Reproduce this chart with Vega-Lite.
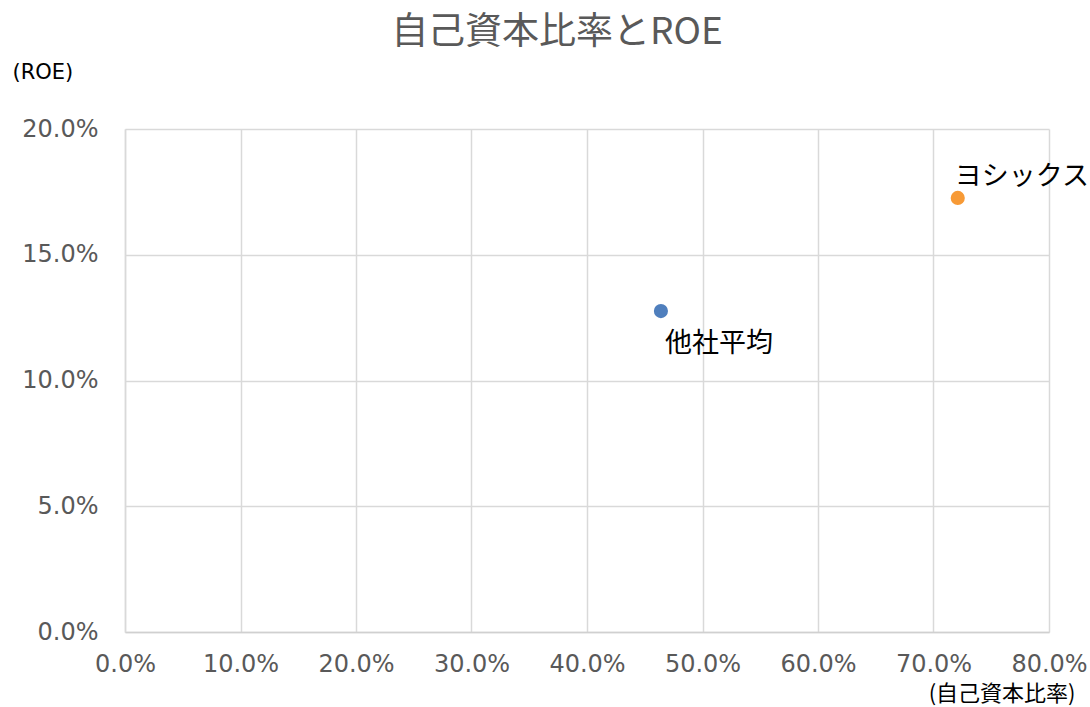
{
  "$schema": "https://vega.github.io/schema/vega-lite/v6.json",
  "width": 924,
  "height": 503,
  "autosize": {"type": "none"},
  "padding": {"left": 125, "top": 129, "right": 41, "bottom": 75},
  "background": "white",
  "title": {
    "text": "自己資本比率とROE",
    "fontSize": 37,
    "font": "Noto Sans CJK JP",
    "fontWeight": "normal",
    "color": "#595959",
    "anchor": "middle",
    "dx": -30,
    "offset": 9
  },
  "data": {
    "values": [
      {"name": "他社平均", "equity": 0.464, "roe": 0.1276},
      {"name": "ヨシックス", "equity": 0.721, "roe": 0.1726}
    ]
  },
  "config": {
    "view": {"stroke": null},
    "font": "DejaVu Sans"
  },
  "encoding": {
    "x": {
      "field": "equity", "type": "quantitative",
      "scale": {"domain": [0, 0.8]},
      "axis": {
        "format": ".1%", "values": [0, 0.1, 0.2, 0.3, 0.4, 0.5, 0.6, 0.7, 0.8],
        "ticks": false, "domain": true, "domainColor": "#d0d0d0", "domainWidth": 1.5,
        "grid": true, "gridColor": "#d9d9d9", "gridWidth": 1.5,
        "labelFontSize": 24, "labelColor": "#595959", "labelPadding": 20,
        "labelFont": "DejaVu Sans", "labelFlush": false, "labelOverlap": false, "labelBound": false,
        "title": "(自己資本比率)", "titleFont": "Noto Sans CJK JP", "titleFontSize": 22,
        "titleFontWeight": "normal", "titleColor": "#000000",
        "titleAlign": "right", "titleAnchor": null, "titleX": 950, "titleY": 61,
        "titleBaseline": "middle"
      }
    },
    "y": {
      "field": "roe", "type": "quantitative",
      "scale": {"domain": [0, 0.2]},
      "axis": {
        "format": ".1%", "values": [0, 0.05, 0.1, 0.15, 0.2],
        "ticks": false, "domain": true, "domainColor": "#d9d9d9", "domainWidth": 1.5,
        "grid": true, "gridColor": "#d9d9d9", "gridWidth": 1.5,
        "labelFontSize": 24, "labelColor": "#595959", "labelPadding": 27,
        "labelFont": "DejaVu Sans", "labelFlush": false, "labelOverlap": false, "labelBound": false,
        "title": "(ROE)", "titleFont": "DejaVu Sans", "titleFontSize": 21,
        "titleFontWeight": "normal", "titleColor": "#000000",
        "titleAngle": 0, "titleAlign": "left", "titleAnchor": null,
        "titleX": -113, "titleY": -57, "titleBaseline": "middle"
      }
    }
  },
  "layer": [
    {
      "mark": {"type": "point", "filled": true, "opacity": 1, "size": 200},
      "encoding": {
        "color": {
          "field": "name", "type": "nominal",
          "scale": {"domain": ["他社平均", "ヨシックス"], "range": ["#4f7fbd", "#f79a36"]},
          "legend": null
        }
      }
    },
    {
      "transform": [{"filter": "datum.name === '他社平均'"}],
      "mark": {"type": "text", "align": "left", "baseline": "middle", "fontSize": 27, "font": "Noto Sans CJK JP", "color": "#000000", "dx": 4, "dy": 33},
      "encoding": {"text": {"field": "name"}}
    },
    {
      "transform": [{"filter": "datum.name === 'ヨシックス'"}],
      "mark": {"type": "text", "align": "left", "baseline": "middle", "fontSize": 27, "font": "Noto Sans CJK JP", "color": "#000000", "dx": -3, "dy": -21},
      "encoding": {"text": {"field": "name"}}
    }
  ]
}
